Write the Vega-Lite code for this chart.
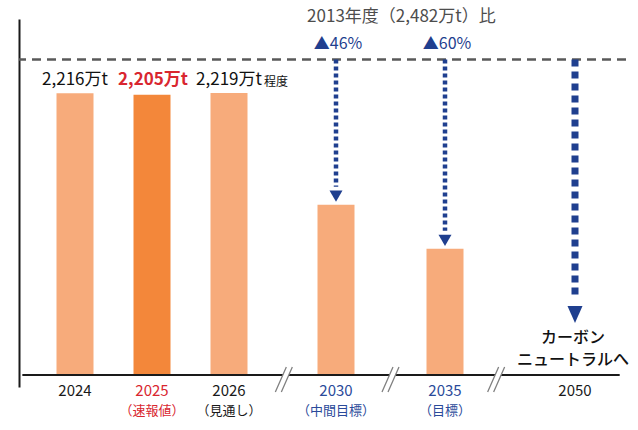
{
  "$schema": "https://vega.github.io/schema/vega-lite/v6.json",
  "width": 607,
  "height": 368,
  "autosize": "none",
  "padding": {"left": 19, "top": 19, "right": 12, "bottom": 43},
  "background": "white",
  "config": {
    "view": {"stroke": null},
    "font": "Noto Sans CJK JP",
    "text": {"font": "Noto Sans CJK JP"},
    "axisY": {"domain": true, "domainColor": "#1a1a1a", "domainWidth": 2, "ticks": false, "labels": false, "grid": false}
  },
  "datasets": {
    "bars": [
      {"year": 2024, "emissions": 2216, "kind": "実績", "label": "2,216万t", "base": 2482},
      {"year": 2025, "emissions": 2205, "kind": "速報値", "label": "2,205万t", "base": 2482},
      {"year": 2026, "emissions": 2219, "kind": "見通し", "label": "2,219万t", "base": 2482},
      {"year": 2030, "emissions": 1340, "kind": "目標", "label": "", "base": 2482},
      {"year": 2035, "emissions": 993, "kind": "目標", "label": "", "base": 2482}
    ],
    "targets": [
      {"year": 2030, "target": 1340, "base": 2482, "label": "▲46%"},
      {"year": 2035, "target": 993, "base": 2482, "label": "▲60%"}
    ],
    "neutral": [
      {"year": 2050, "target": 0, "base": 2482, "note": "カーボン\nニュートラルへ"}
    ],
    "breaks": [
      {"year": 2028.05, "level": 0},
      {"year": 2032.5, "level": 0},
      {"year": 2040.9, "level": 0}
    ],
    "ticks": [
      {"year": 2024, "sub": "", "tone": "normal", "level": 0},
      {"year": 2025, "sub": "（速報値）", "tone": "prelim", "level": 0},
      {"year": 2026, "sub": "（見通し）", "tone": "normal", "level": 0},
      {"year": 2030, "sub": "（中間目標）", "tone": "target", "level": 0},
      {"year": 2035, "sub": "（目標）", "tone": "target", "level": 0},
      {"year": 2050, "sub": "", "tone": "normal", "level": 0}
    ],
    "axisline": [
      {"start": 2022.8, "end": 2055.5, "level": 0}
    ],
    "header": [
      {"year": 2033, "base": 2482, "note": "2013年度（2,482万t）比"}
    ]
  },
  "layer": [
    {
      "data": {"values": [{"base": 2482}]},
      "mark": {"type": "rule", "color": "#595959", "strokeWidth": 2.5, "strokeDash": [9, 6]},
      "encoding": {
        "y": {"field": "base", "type": "quantitative", "scale": {"domain": [-94, 2800], "zero": false, "nice": false}, "axis": {"title": null}}
      }
    },
    {
      "data": {"name": "bars"},
      "mark": {"type": "bar", "width": 37},
      "encoding": {
        "x": {"field": "year", "type": "quantitative", "scale": {"domain": [2023, 2024, 2026, 2030, 2035, 2050, 2056], "range": [0, 56, 210, 317, 426, 556, 607], "zero": false, "nice": false}, "axis": null},
        "y": {"field": "emissions", "type": "quantitative", "scale": {"domain": [-94, 2800], "zero": false, "nice": false}, "axis": {"title": null}},
        "color": {"field": "kind", "type": "nominal", "scale": {"domain": ["実績", "速報値", "見通し", "目標"], "range": ["#F7AB7B", "#F3873A", "#F7AB7B", "#F7AB7B"]}, "legend": null}
      }
    },
    {
      "data": {"name": "axisline"},
      "mark": {"type": "rule", "color": "#1a1a1a", "strokeWidth": 2},
      "encoding": {
        "x": {"field": "start", "type": "quantitative", "scale": {"domain": [2023, 2024, 2026, 2030, 2035, 2050, 2056], "range": [0, 56, 210, 317, 426, 556, 607], "zero": false, "nice": false}, "axis": null},
        "x2": {"field": "end"},
        "y": {"field": "level", "type": "quantitative", "scale": {"domain": [-94, 2800], "zero": false, "nice": false}, "axis": {"title": null}}
      }
    },
    {
      "data": {"name": "breaks"},
      "mark": {"type": "point", "shape": "M-0.68,1L0.2,-1L0.68,-1L-0.2,1Z", "filled": true, "fill": "white", "strokeWidth": 0, "size": 625, "opacity": 1, "yOffset": 4.5},
      "encoding": {
        "x": {"field": "year", "type": "quantitative", "scale": {"domain": [2023, 2024, 2026, 2030, 2035, 2050, 2056], "range": [0, 56, 210, 317, 426, 556, 607], "zero": false, "nice": false}, "axis": null},
        "y": {"field": "level", "type": "quantitative", "scale": {"domain": [-94, 2800], "zero": false, "nice": false}, "axis": {"title": null}}
      }
    },
    {
      "data": {"name": "breaks"},
      "mark": {"type": "point", "shape": "M-0.68,1L0.2,-1M-0.2,1L0.68,-1", "filled": false, "stroke": "#808080", "strokeWidth": 1.3, "size": 625, "opacity": 1, "yOffset": 4.5},
      "encoding": {
        "x": {"field": "year", "type": "quantitative", "scale": {"domain": [2023, 2024, 2026, 2030, 2035, 2050, 2056], "range": [0, 56, 210, 317, 426, 556, 607], "zero": false, "nice": false}, "axis": null},
        "y": {"field": "level", "type": "quantitative", "scale": {"domain": [-94, 2800], "zero": false, "nice": false}, "axis": {"title": null}}
      }
    },
    {
      "data": {"name": "targets"},
      "mark": {"type": "rule", "color": "#1F3F8F", "strokeWidth": 4.5, "strokeDash": [4, 3], "y2Offset": -18},
      "encoding": {
        "x": {"field": "year", "type": "quantitative", "scale": {"domain": [2023, 2024, 2026, 2030, 2035, 2050, 2056], "range": [0, 56, 210, 317, 426, 556, 607], "zero": false, "nice": false}, "axis": null},
        "y": {"field": "base", "type": "quantitative", "scale": {"domain": [-94, 2800], "zero": false, "nice": false}, "axis": {"title": null}},
        "y2": {"field": "target"}
      }
    },
    {
      "data": {"name": "targets"},
      "mark": {"type": "point", "shape": "triangle-down", "filled": true, "color": "#1F3F8F", "size": 169, "opacity": 1, "yOffset": -8.5},
      "encoding": {
        "x": {"field": "year", "type": "quantitative", "scale": {"domain": [2023, 2024, 2026, 2030, 2035, 2050, 2056], "range": [0, 56, 210, 317, 426, 556, 607], "zero": false, "nice": false}, "axis": null},
        "y": {"field": "target", "type": "quantitative", "scale": {"domain": [-94, 2800], "zero": false, "nice": false}, "axis": {"title": null}}
      }
    },
    {
      "data": {"name": "targets"},
      "mark": {"type": "text", "color": "#1F3F8F", "fontSize": 16, "baseline": "middle", "dy": -15.5, "dx": 2},
      "encoding": {
        "x": {"field": "year", "type": "quantitative", "scale": {"domain": [2023, 2024, 2026, 2030, 2035, 2050, 2056], "range": [0, 56, 210, 317, 426, 556, 607], "zero": false, "nice": false}, "axis": null},
        "y": {"field": "base", "type": "quantitative", "scale": {"domain": [-94, 2800], "zero": false, "nice": false}, "axis": {"title": null}},
        "text": {"field": "label", "type": "nominal"}
      }
    },
    {
      "data": {"name": "neutral"},
      "mark": {"type": "rule", "color": "#1F3F8F", "strokeWidth": 7, "strokeDash": [7, 5], "y2Offset": -76},
      "encoding": {
        "x": {"field": "year", "type": "quantitative", "scale": {"domain": [2023, 2024, 2026, 2030, 2035, 2050, 2056], "range": [0, 56, 210, 317, 426, 556, 607], "zero": false, "nice": false}, "axis": null},
        "y": {"field": "base", "type": "quantitative", "scale": {"domain": [-94, 2800], "zero": false, "nice": false}, "axis": {"title": null}},
        "y2": {"field": "target"}
      }
    },
    {
      "data": {"name": "neutral"},
      "mark": {"type": "point", "shape": "M-1,-1.13L1,-1.13L0,1.13Z", "filled": true, "color": "#1F3F8F", "size": 225, "opacity": 1, "yOffset": -60.5},
      "encoding": {
        "x": {"field": "year", "type": "quantitative", "scale": {"domain": [2023, 2024, 2026, 2030, 2035, 2050, 2056], "range": [0, 56, 210, 317, 426, 556, 607], "zero": false, "nice": false}, "axis": null},
        "y": {"field": "target", "type": "quantitative", "scale": {"domain": [-94, 2800], "zero": false, "nice": false}, "axis": {"title": null}}
      }
    },
    {
      "data": {"name": "neutral"},
      "mark": {"type": "text", "color": "#111111", "fontSize": 16, "fontWeight": 500, "baseline": "middle", "lineBreak": "\n", "lineHeight": 22, "dy": -37, "dx": -2},
      "encoding": {
        "x": {"field": "year", "type": "quantitative", "scale": {"domain": [2023, 2024, 2026, 2030, 2035, 2050, 2056], "range": [0, 56, 210, 317, 426, 556, 607], "zero": false, "nice": false}, "axis": null},
        "y": {"field": "target", "type": "quantitative", "scale": {"domain": [-94, 2800], "zero": false, "nice": false}, "axis": {"title": null}},
        "text": {"field": "note", "type": "nominal"}
      }
    },
    {
      "data": {"name": "bars"},
      "transform": [{"filter": "datum.label !== '' && datum.year !== 2025"}],
      "mark": {"type": "text", "color": "#111111", "fontSize": 17, "baseline": "middle", "dy": 21},
      "encoding": {
        "x": {"field": "year", "type": "quantitative", "scale": {"domain": [2023, 2024, 2026, 2030, 2035, 2050, 2056], "range": [0, 56, 210, 317, 426, 556, 607], "zero": false, "nice": false}, "axis": null},
        "y": {"field": "base", "type": "quantitative", "scale": {"domain": [-94, 2800], "zero": false, "nice": false}, "axis": {"title": null}},
        "text": {"field": "label", "type": "nominal"}
      }
    },
    {
      "data": {"name": "bars"},
      "transform": [{"filter": "datum.year === 2025"}],
      "mark": {"type": "text", "color": "#D9262F", "fontSize": 17, "fontWeight": "bold", "baseline": "middle", "dy": 21, "dx": 1},
      "encoding": {
        "x": {"field": "year", "type": "quantitative", "scale": {"domain": [2023, 2024, 2026, 2030, 2035, 2050, 2056], "range": [0, 56, 210, 317, 426, 556, 607], "zero": false, "nice": false}, "axis": null},
        "y": {"field": "base", "type": "quantitative", "scale": {"domain": [-94, 2800], "zero": false, "nice": false}, "axis": {"title": null}},
        "text": {"field": "label", "type": "nominal"}
      }
    },
    {
      "data": {"values": [{"year": 2026, "note": "程度", "base": 2482}]},
      "mark": {"type": "text", "color": "#111111", "fontSize": 12, "baseline": "middle", "align": "left", "dy": 23, "dx": 35},
      "encoding": {
        "x": {"field": "year", "type": "quantitative", "scale": {"domain": [2023, 2024, 2026, 2030, 2035, 2050, 2056], "range": [0, 56, 210, 317, 426, 556, 607], "zero": false, "nice": false}, "axis": null},
        "y": {"field": "base", "type": "quantitative", "scale": {"domain": [-94, 2800], "zero": false, "nice": false}, "axis": {"title": null}},
        "text": {"field": "note", "type": "nominal"}
      }
    },
    {
      "data": {"name": "header"},
      "mark": {"type": "text", "color": "#4d4d4d", "fontSize": 17, "baseline": "middle", "dy": -42.5},
      "encoding": {
        "x": {"field": "year", "type": "quantitative", "scale": {"domain": [2023, 2024, 2026, 2030, 2035, 2050, 2056], "range": [0, 56, 210, 317, 426, 556, 607], "zero": false, "nice": false}, "axis": null},
        "y": {"field": "base", "type": "quantitative", "scale": {"domain": [-94, 2800], "zero": false, "nice": false}, "axis": {"title": null}},
        "text": {"field": "note", "type": "nominal"}
      }
    },
    {
      "data": {"name": "ticks"},
      "transform": [{"filter": "datum.tone === 'normal'"}],
      "mark": {"type": "text", "fontSize": 15, "baseline": "middle", "dy": 16, "color": "#1a1a1a"},
      "encoding": {
        "x": {"field": "year", "type": "quantitative", "scale": {"domain": [2023, 2024, 2026, 2030, 2035, 2050, 2056], "range": [0, 56, 210, 317, 426, 556, 607], "zero": false, "nice": false}, "axis": null},
        "y": {"field": "level", "type": "quantitative", "scale": {"domain": [-94, 2800], "zero": false, "nice": false}, "axis": {"title": null}},
        "text": {"field": "year", "type": "nominal"}
      }
    },
    {
      "data": {"name": "ticks"},
      "transform": [{"filter": "datum.tone === 'prelim'"}],
      "mark": {"type": "text", "fontSize": 15, "baseline": "middle", "dy": 16, "color": "#D9262F"},
      "encoding": {
        "x": {"field": "year", "type": "quantitative", "scale": {"domain": [2023, 2024, 2026, 2030, 2035, 2050, 2056], "range": [0, 56, 210, 317, 426, 556, 607], "zero": false, "nice": false}, "axis": null},
        "y": {"field": "level", "type": "quantitative", "scale": {"domain": [-94, 2800], "zero": false, "nice": false}, "axis": {"title": null}},
        "text": {"field": "year", "type": "nominal"}
      }
    },
    {
      "data": {"name": "ticks"},
      "transform": [{"filter": "datum.tone === 'target'"}],
      "mark": {"type": "text", "fontSize": 15, "baseline": "middle", "dy": 16, "color": "#2A4A9A"},
      "encoding": {
        "x": {"field": "year", "type": "quantitative", "scale": {"domain": [2023, 2024, 2026, 2030, 2035, 2050, 2056], "range": [0, 56, 210, 317, 426, 556, 607], "zero": false, "nice": false}, "axis": null},
        "y": {"field": "level", "type": "quantitative", "scale": {"domain": [-94, 2800], "zero": false, "nice": false}, "axis": {"title": null}},
        "text": {"field": "year", "type": "nominal"}
      }
    },
    {
      "data": {"name": "ticks"},
      "transform": [{"filter": "datum.tone === 'normal' && datum.sub !== ''"}],
      "mark": {"type": "text", "fontSize": 13, "baseline": "middle", "dy": 36, "color": "#1a1a1a"},
      "encoding": {
        "x": {"field": "year", "type": "quantitative", "scale": {"domain": [2023, 2024, 2026, 2030, 2035, 2050, 2056], "range": [0, 56, 210, 317, 426, 556, 607], "zero": false, "nice": false}, "axis": null},
        "y": {"field": "level", "type": "quantitative", "scale": {"domain": [-94, 2800], "zero": false, "nice": false}, "axis": {"title": null}},
        "text": {"field": "sub", "type": "nominal"}
      }
    },
    {
      "data": {"name": "ticks"},
      "transform": [{"filter": "datum.tone === 'prelim'"}],
      "mark": {"type": "text", "fontSize": 13, "baseline": "middle", "dy": 36, "color": "#D9262F"},
      "encoding": {
        "x": {"field": "year", "type": "quantitative", "scale": {"domain": [2023, 2024, 2026, 2030, 2035, 2050, 2056], "range": [0, 56, 210, 317, 426, 556, 607], "zero": false, "nice": false}, "axis": null},
        "y": {"field": "level", "type": "quantitative", "scale": {"domain": [-94, 2800], "zero": false, "nice": false}, "axis": {"title": null}},
        "text": {"field": "sub", "type": "nominal"}
      }
    },
    {
      "data": {"name": "ticks"},
      "transform": [{"filter": "datum.tone === 'target'"}],
      "mark": {"type": "text", "fontSize": 13, "baseline": "middle", "dy": 36, "color": "#2A4A9A"},
      "encoding": {
        "x": {"field": "year", "type": "quantitative", "scale": {"domain": [2023, 2024, 2026, 2030, 2035, 2050, 2056], "range": [0, 56, 210, 317, 426, 556, 607], "zero": false, "nice": false}, "axis": null},
        "y": {"field": "level", "type": "quantitative", "scale": {"domain": [-94, 2800], "zero": false, "nice": false}, "axis": {"title": null}},
        "text": {"field": "sub", "type": "nominal"}
      }
    }
  ]
}
